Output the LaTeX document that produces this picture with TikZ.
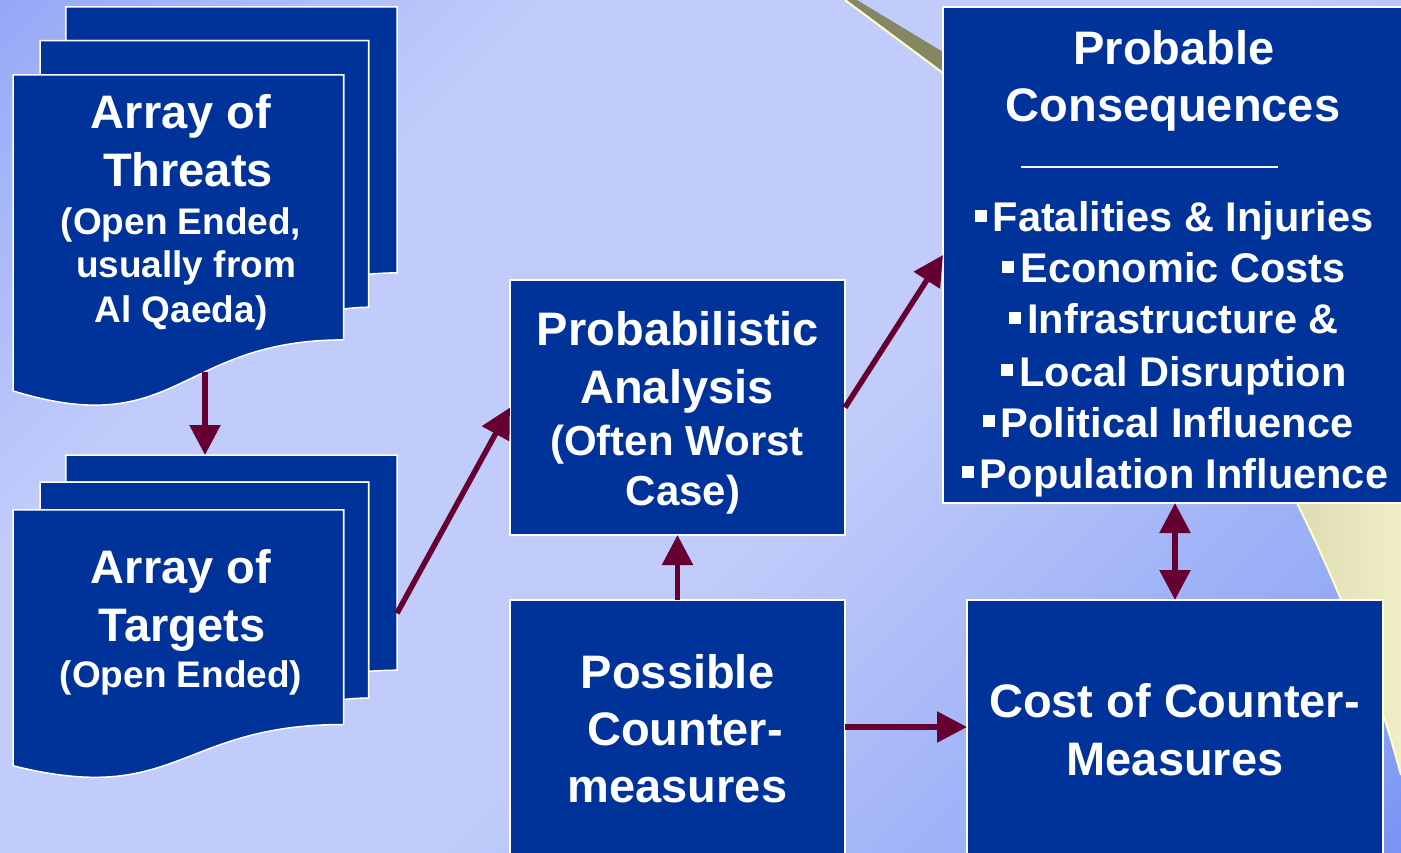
\documentclass[tikz,border=0pt]{standalone}
\usepackage{fontspec}
\setmainfont{Liberation Sans}
\usetikzlibrary{arrows.meta}
\definecolor{bg0}{HTML}{889DF6}
\definecolor{bg1}{HTML}{A9B9F8}
\definecolor{bg2}{HTML}{C1CCFA}
\definecolor{bg3}{HTML}{A5B6F8}
\definecolor{bg4}{HTML}{8CA3F6}
\definecolor{bg5}{HTML}{6886F4}
\definecolor{boxblue}{HTML}{003399}
\definecolor{arrowred}{HTML}{660033}
\definecolor{ylwA}{HTML}{DCDBB0}
\definecolor{ylwB}{HTML}{EFEEC6}
\definecolor{ylwHi}{HTML}{FFFFC8}
\definecolor{olivegrey}{HTML}{858764}
\pgfdeclareverticalshading{bgshade}{100bp}{color(0bp)=(bg5); color(10bp)=(bg5); color(20bp)=(bg4); color(32bp)=(bg3); color(45bp)=(bg2); color(68bp)=(bg2); color(78bp)=(bg1); color(90bp)=(bg0); color(100bp)=(bg0)}
\newcommand\mysqbullet{\rule[10pt]{12pt}{12pt}\hspace{6pt}}
\tikzset{
  box/.style={draw=white, line width=1.5pt, fill=boxblue, inner sep=0pt, outer sep=0pt, anchor=north west},
  sheet/.style={draw=white, line width=1.5pt, fill=boxblue, line join=miter},
  conn/.style={draw=arrowred, line width=5.5pt, -{Triangle[length=30pt,width=30pt]}},
  dconn/.style={draw=arrowred, line width=5.5pt, {Triangle[length=30pt,width=30pt]}-{Triangle[length=30pt,width=30pt]}},
  tx/.style={text=white, anchor=base, inner sep=0pt},
  tbig/.style={tx, font=\bfseries\fontsize{47}{56}\selectfont},
  tmid/.style={tx, font=\bfseries\fontsize{42}{50}\selectfont},
  tsml/.style={tx, font=\bfseries\fontsize{37}{44}\selectfont},
  tbul/.style={tx, font=\bfseries\fontsize{41.5}{50}\selectfont},
}
\begin{document}
\begin{tikzpicture}[x=1pt,y=-1pt]
\useasboundingbox (0,0) rectangle (1401,853);
\clip (0,0) rectangle (1401,853);
% background
\shade[shading=bgshade, shading angle=45] (0,0) rectangle (1401,853);
% yellow backdrop shape at right
\shade[left color=ylwA, right color=ylwB] (1297,503) .. controls (1330,570) and (1370,660) .. (1401,775) -- (1401,480) -- (1290,480) -- cycle;
\draw[ylwHi, line width=2pt] (1297,503) .. controls (1330,570) and (1370,660) .. (1401,775);
% olive wedge at top
\fill[olivegrey] (845,0) -- (857,0) -- (943,52) -- (943,73) -- cycle;
\draw[ylwHi, line width=2pt] (845,0) -- (943,73);

% Array of Threats (multidocument)
\begin{scope}[shift={(13,7)}, x=384pt, y=-399pt]
  \filldraw[sheet] (0.13759,0.08403) -- (0.13759,0) -- (1,0) -- (1,0.66630) .. controls (0.96296,0.66630) and (0.92593,0.66977) .. (0.92593,0.66977) -- (0.92593,0.08403) -- cycle;
  \filldraw[sheet] (0.07093,0.17014) -- (0.07093,0.08403) -- (0.92593,0.08403) -- (0.92593,0.75241) .. controls (0.89343,0.75241) and (0.86088,0.75704) .. (0.86088,0.75704) -- (0.86088,0.17014) -- cycle;
  \filldraw[sheet] (0,0.17014) -- (0.86088,0.17014) -- (0.86088,0.83435) .. controls (0.43046,0.83435) and (0.43046,1.08991) .. (0,0.96213) -- cycle;
  \coordinate (thrB) at (0.5,0.915);
\end{scope}
% Array of Targets (multidocument)
\begin{scope}[shift={(13,455)}, x=384pt, y=-323pt]
  \filldraw[sheet] (0.13759,0.08403) -- (0.13759,0) -- (1,0) -- (1,0.66630) .. controls (0.96296,0.66630) and (0.92593,0.66977) .. (0.92593,0.66977) -- (0.92593,0.08403) -- cycle;
  \filldraw[sheet] (0.07093,0.17014) -- (0.07093,0.08403) -- (0.92593,0.08403) -- (0.92593,0.75241) .. controls (0.89343,0.75241) and (0.86088,0.75704) .. (0.86088,0.75704) -- (0.86088,0.17014) -- cycle;
  \filldraw[sheet] (0,0.17014) -- (0.86088,0.17014) -- (0.86088,0.83435) .. controls (0.43046,0.83435) and (0.43046,1.08991) .. (0,0.96213) -- cycle;
  \coordinate (tgtT) at (0.5,0);
  \coordinate (tgtR) at (1,0.49);
\end{scope}

% rectangular boxes
\node[box, minimum width=335pt, minimum height=255pt] (prob) at (510,280) {};
\node[box, minimum width=335pt, minimum height=254pt] (poss) at (510,600) {};
\node[box, minimum width=467pt, minimum height=496pt] (cons) at (943,7) {};
\node[box, minimum width=416pt, minimum height=254pt] (cost) at (967,600) {};

% connectors
\draw[conn] (thrB) -- (tgtT);
\draw[conn] (tgtR) -- (prob.west);
\draw[conn] (prob.east) -- (cons.west);
\draw[conn] (poss.north) -- (prob.south);
\draw[conn] (poss.east) -- (cost.west);
\draw[dconn] (cons.south -| cost.north) -- (cost.north);

% texts: threats
\node[tbig] (thr1) at (181,129) {Array of};
\node[tbig] (thr2) at (188,187) {Threats};
\node[tsml] (thr3) at (181,235) {(Open Ended,};
\node[tsml] (thr4) at (186,278) {usually from};
\node[tsml] (thr5) at (181,323) {Al Qaeda)};
% targets
\node[tbig] (tgt1) at (181,583) {Array of};
\node[tbig] (tgt2) at (182,641) {Targets};
\node[tsml] (tgt3) at (181,687) {(Open Ended)};
% probabilistic
\node[tbig] (pr1) at (678,345) {Probabilistic};
\node[tbig] (pr2) at (677,403) {Analysis};
\node[tmid] (pr3) at (677,455) {(Often Worst};
\node[tmid] (pr4) at (683,505) {Case)};
% consequences
\node[tbig] (cn1) at (1174,65) {Probable};
\node[tbig] (cn2) at (1173,122) {Consequences};
\draw[white, line width=1.5pt] (1021,167) -- (1278,167);
\node[tbul] (cb1) at (1174,232) {\mysqbullet Fatalities \& Injuries};
\node[tbul] (cb2) at (1174,283) {\mysqbullet Economic Costs};
\node[tbul] (cb3) at (1174,334) {\mysqbullet Infrastructure \&};
\node[tbul] (cb4) at (1174,386) {\mysqbullet Local Disruption};
\node[tbul] (cb5) at (1168,437) {\mysqbullet Political Influence};
\node[tbul] (cb6) at (1175,488) {\mysqbullet Population Influence};
% possible countermeasures
\node[tbig] (ps1) at (677.5,688) {Possible};
\node[tbig] (ps2) at (685,745) {Counter-};
\node[tbig] (ps3) at (677.5,802) {measures};
% cost
\node[tbig] (cs1) at (1174.5,717) {Cost of Counter-};
\node[tbig] (cs2) at (1175,775) {Measures};
\end{tikzpicture}
\end{document}
